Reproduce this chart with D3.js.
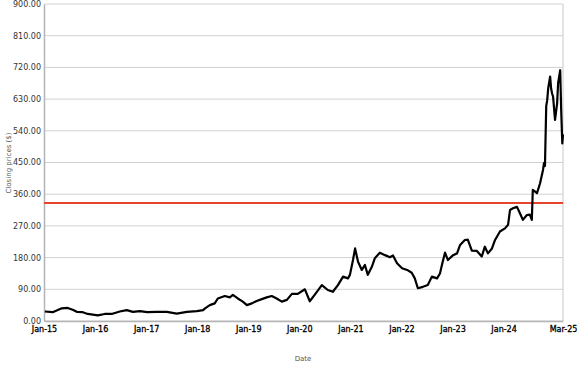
<!DOCTYPE html>
<html><head><meta charset="utf-8">
<script src="https://cdn.jsdelivr.net/npm/d3@7"></script>
<style>body{margin:0;background:#fff;}svg{display:block;font-family:"DejaVu Sans",Verdana,sans-serif;}</style>
</head><body><svg id="c" width="577" height="367"></svg>
<script>
const dates = ["2015-01-07","2015-03-04","2015-05-08","2015-06-20","2015-07-25","2015-08-23","2015-10-05","2015-11-10","2016-01-21","2016-03-10","2016-04-29","2016-06-26","2016-08-15","2016-09-28","2016-11-17","2017-01-07","2017-03-17","2017-05-28","2017-08-08","2017-10-19","2017-12-29","2018-02-12","2018-02-26","2018-04-01","2018-05-06","2018-05-28","2018-07-17","2018-08-22","2018-09-13","2018-10-18","2018-11-23","2018-12-22","2019-01-27","2019-03-02","2019-04-08","2019-05-13","2019-06-18","2019-07-23","2019-08-29","2019-10-04","2019-11-09","2019-12-21","2020-02-10","2020-03-16","2020-04-21","2020-06-10","2020-07-23","2020-08-28","2020-10-03","2020-11-09","2020-12-14","2020-12-28","2021-01-19","2021-02-03","2021-02-24","2021-03-23","2021-04-14","2021-05-05","2021-06-03","2021-06-24","2021-07-30","2021-09-05","2021-10-10","2021-11-01","2021-11-30","2022-01-05","2022-02-10","2022-03-15","2022-04-06","2022-04-28","2022-06-03","2022-07-08","2022-08-06","2022-09-12","2022-10-03","2022-10-17","2022-11-08","2022-11-29","2023-01-05","2023-02-02","2023-02-24","2023-03-30","2023-04-20","2023-05-19","2023-06-24","2023-07-29","2023-08-20","2023-09-11","2023-10-10","2023-11-01","2023-12-06","2024-01-11","2024-02-02","2024-02-16","2024-03-08","2024-04-06","2024-04-27","2024-05-18","2024-06-16","2024-07-07","2024-07-21","2024-07-28","2024-08-19","2024-08-27","2024-09-18","2024-10-09","2024-10-16","2024-10-23","2024-11-01","2024-11-08","2024-11-15","2024-11-29","2024-12-06","2024-12-13","2024-12-20","2025-01-03","2025-01-18","2025-01-25","2025-02-09","2025-02-16","2025-02-24","2025-03-01"];
const prices = [27,25,36,37,32,26,25,20,16,20,20,27,31,26,28,25,26,26,21,26,28,31,36,45,50,64,71,67,74,64,55,45,50,57,62,67,71,64,55,60,77,77,90,56,75,102,88,83,102,126,121,131,173,206,168,145,159,131,154,178,194,187,181,186,164,150,145,137,121,93,97,102,126,121,135,159,194,173,187,192,216,230,231,200,199,183,211,192,206,230,254,263,273,315,320,324,306,287,301,302,287,372,366,363,391,429,448,440,610,627,660,694,660,646,637,571,618,675,712,599,504,530];
const refValue = 335;
const yTicks = [0,90,180,270,360,450,540,630,720,810,900];
const xTickDates = ["2015-01-01","2016-01-01","2017-01-01","2018-01-01","2019-01-01","2020-01-01","2021-01-01","2022-01-01","2023-01-01","2024-01-01","2025-03-01"];
const xTickLabels = ["Jan-15","Jan-16","Jan-17","Jan-18","Jan-19","Jan-20","Jan-21","Jan-22","Jan-23","Jan-24","Mar-25"];

const parse = d3.timeParse("%Y-%m-%d");
const data = dates.map((d,i)=>({date:parse(d), v:prices[i]}));
const L=44, R=563, T=4, B=321;
const x = d3.scaleTime().domain([parse("2015-01-01"), parse("2025-03-01")]).range([L,R]);
const y = d3.scaleLinear().domain([0,900]).range([B,T]);
const svg = d3.select("#c");

// grid
svg.append("g").selectAll("line").data(yTicks).join("line")
  .attr("x1",L).attr("x2",R).attr("y1",d=>y(d)).attr("y2",d=>y(d))
  .attr("stroke","#d2d2d2").attr("stroke-width",1);

// y axis
const ya = svg.append("g").attr("transform",`translate(${L},0)`)
  .call(d3.axisLeft(y).tickValues(yTicks).tickFormat(d3.format(".2f")).tickSize(0).tickPadding(3));
ya.select(".domain").attr("stroke","#b4b4b4").attr("stroke-width",1.5);
ya.selectAll("text").attr("font-size",8).attr("fill","#333").attr("font-family","DejaVu Sans").attr("dy","0.3em");

// x axis
const xa = svg.append("g").attr("transform",`translate(0,${B})`)
  .call(d3.axisBottom(x).tickValues(xTickDates.map(parse)).tickFormat((d,i)=>xTickLabels[i]).tickSize(0).tickPadding(5));
xa.select(".domain").attr("stroke","#b4b4b4").attr("stroke-width",1.5);
xa.selectAll("text").attr("font-size",8).attr("fill","#000").attr("stroke","#000").attr("stroke-width",0.3)
  .attr("font-family","DejaVu Sans");

// right border
svg.append("line").attr("x1",R).attr("x2",R).attr("y1",T).attr("y2",B).attr("stroke","#c8c8c8").attr("stroke-width",1);

// reference line
svg.append("line").attr("x1",L).attr("x2",R).attr("y1",y(refValue)).attr("y2",y(refValue))
  .attr("stroke","#e8412c").attr("stroke-width",2);

// price line
svg.append("path").datum(data)
  .attr("d", d3.line().x(d=>x(d.date)).y(d=>y(d.v)))
  .attr("fill","none").attr("stroke","#000").attr("stroke-width",2.2).attr("stroke-linejoin","round");

// titles
svg.append("text").attr("transform","translate(11,163) rotate(-90)").attr("text-anchor","middle")
  .attr("font-size",7).attr("fill","#555").text("Closing prices ($)");
svg.append("text").attr("x",303).attr("y",361).attr("text-anchor","middle")
  .attr("font-size",7).attr("fill","#555").text("Date");
</script></body></html>
